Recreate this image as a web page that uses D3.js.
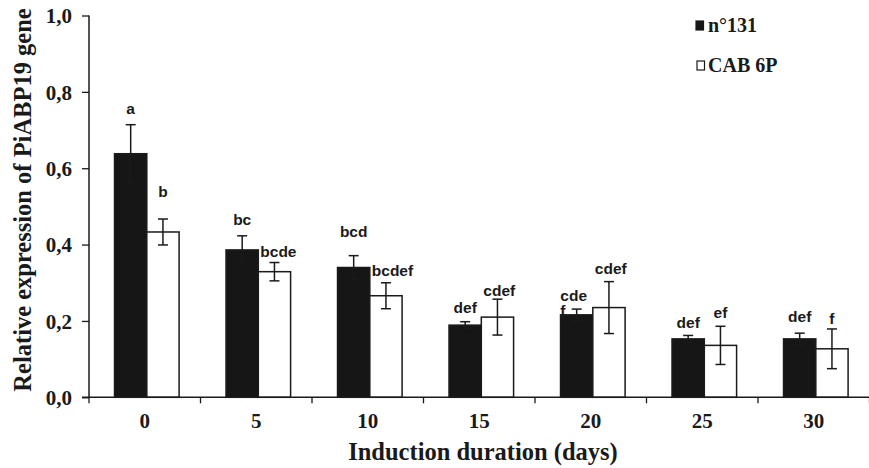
<!DOCTYPE html>
<html>
<head>
<meta charset="utf-8">
<script src="https://cdn.jsdelivr.net/npm/d3@7"></script>
<style>
  html, body { margin: 0; padding: 0; background: #fff; }
  svg { display: block; }
</style>
</head>
<body>
<svg id="chart" width="869" height="468"></svg>
<script>
// ---- data ----
const categories = ["0", "5", "10", "15", "20", "25", "30"];
const seriesNames = ["n°131", "CAB 6P"];
const n131Values = [0.638, 0.386, 0.340, 0.189, 0.216, 0.153, 0.153];
const n131Errors = [0.076, 0.037, 0.031, 0.009, 0.015, 0.009, 0.015];
const cabValues  = [0.433, 0.329, 0.266, 0.210, 0.235, 0.136, 0.127];
const cabErrors  = [0.034, 0.024, 0.034, 0.047, 0.068, 0.050, 0.052];
const n131Letters = ["a", "bc", "bcd", "def", "cde\nf", "def", "def"];
const cabLetters  = ["b", "bcde", "bcdef", "cdef", "cdef", "ef", "f"];
// value at which each letter label's baseline sits
const n131LetterAt = [0.743, 0.450, 0.420, 0.222, 0.253, 0.181, 0.196];
const cabLetterAt  = [0.524, 0.367, 0.319, 0.266, 0.323, 0.207, 0.192];
const yTicks = [0, 0.2, 0.4, 0.6, 0.8, 1.0];
const yTitle = "Relative expression of PiABP19 gene";
const xTitle = "Induction duration (days)";

// ---- layout ----
const svg = d3.select("#chart");
const serif = "'Liberation Serif', 'Times New Roman', serif";
const sans = "'Liberation Sans', Arial, sans-serif";
const plotL = 89, plotR = 869.5, plotT = 15.5, plotB = 397.3;
const barFill = ["#161616", "#ffffff"];

const x = d3.scaleBand().domain(categories).range([plotL, plotR]).padding(0);
const inner = d3.scaleBand().domain(seriesNames)
  .range([x.bandwidth() * 0.229, x.bandwidth() * 0.808]);
const y = d3.scaleLinear().domain([0, 1]).range([plotB, plotT]);

const rows = categories.map((c, i) => ({
  cat: c,
  bars: [
    { s: seriesNames[0], v: n131Values[i], e: n131Errors[i], lab: n131Letters[i], la: n131LetterAt[i] },
    { s: seriesNames[1], v: cabValues[i], e: cabErrors[i], lab: cabLetters[i], la: cabLetterAt[i] }
  ]
}));
const allBars = rows.flatMap(r => r.bars.map(b => ({ ...b, cat: r.cat })));
const bx = b => x(b.cat) + inner(b.s);
const cx = b => bx(b) + inner.bandwidth() / 2;

// ---- letters (drawn under bars) ----
const labG = svg.append("g").attr("font-family", sans).attr("font-weight", "bold")
  .attr("font-size", "15.5px").attr("fill", "#1a1a1a");
allBars.forEach(b => {
  const lines = b.lab.split("\n");
  const t = labG.append("text").attr("y", y(b.la));
  if (lines.length === 1) {
    t.text(b.lab);
    const w = t.node().getComputedTextLength();
    if (w > inner.bandwidth() - 2) {
      t.attr("x", bx(b) + 2).attr("text-anchor", "start");
    } else {
      t.attr("x", cx(b)).attr("text-anchor", "middle");
    }
  } else {
    t.text(lines[0]);
    const w = t.node().getComputedTextLength();
    t.text(null);
    lines.forEach((ln, k) => {
      t.append("tspan").attr("x", cx(b) - 3 - w / 2).attr("dy", k === 0 ? 0 : 15.3).text(ln);
    });
  }
});

// ---- bars ----
svg.append("g").selectAll("rect").data(allBars).join("rect")
  .attr("x", b => bx(b))
  .attr("y", b => y(b.v))
  .attr("width", inner.bandwidth())
  .attr("height", b => y(0) - y(b.v))
  .attr("fill", b => barFill[seriesNames.indexOf(b.s)])
  .attr("stroke", "#1a1a1a").attr("stroke-width", 1.5);

// ---- error bars ----
const eg = svg.append("g").attr("stroke", "#1a1a1a").attr("stroke-width", 1.5);
allBars.forEach(b => {
  const c = cx(b);
  eg.append("line").attr("x1", c).attr("x2", c).attr("y1", y(b.v + b.e)).attr("y2", y(b.v - b.e));
  eg.append("line").attr("x1", c - 5).attr("x2", c + 5).attr("y1", y(b.v + b.e)).attr("y2", y(b.v + b.e));
  eg.append("line").attr("x1", c - 5).attr("x2", c + 5).attr("y1", y(b.v - b.e)).attr("y2", y(b.v - b.e));
});

// ---- y axis ----
const yAxis = d3.axisLeft(y).tickValues(yTicks).tickSize(7).tickPadding(10)
  .tickFormat(d => d3.format(".1f")(d).replace(".", ","));
const yg = svg.append("g").attr("transform", `translate(${plotL},0)`).call(yAxis);
yg.select(".domain").attr("d", `M0,${plotT}V${plotB}`).attr("stroke", "#1a1a1a").attr("stroke-width", 1.5);
yg.selectAll(".tick line").attr("stroke", "#1a1a1a").attr("stroke-width", 1.3);
yg.selectAll(".tick text").attr("font-family", serif).attr("font-weight", "bold")
  .attr("font-size", "21px").attr("fill", "#1a1a1a").attr("dy", "0.35em");

// ---- x axis ----
const xAxis = d3.axisBottom(x).tickSize(0).tickPadding(16);
const xg = svg.append("g").attr("transform", `translate(0,${plotB})`).call(xAxis);
xg.select(".domain").attr("d", `M${plotL - 7},0H${plotR}`).attr("stroke", "#1a1a1a").attr("stroke-width", 1.5);
xg.selectAll(".tick text").attr("font-family", serif).attr("font-weight", "bold")
  .attr("font-size", "21px").attr("fill", "#1a1a1a");
xg.selectAll(".bound").data(categories.map(c => x(c) + x.step()).concat([x(categories[0])]))
  .join("line").attr("class", "bound")
  .attr("x1", d => d).attr("x2", d => d).attr("y1", 0).attr("y2", 6)
  .attr("stroke", "#1a1a1a").attr("stroke-width", 1.3);

// ---- titles ----
svg.append("text").attr("x", 483).attr("y", 460).attr("text-anchor", "middle")
  .attr("font-family", serif).attr("font-weight", "bold").attr("font-size", "24.5px")
  .attr("fill", "#1a1a1a").text(xTitle);
svg.append("text").attr("transform", "translate(31,200) rotate(-90)").attr("text-anchor", "middle")
  .attr("font-family", serif).attr("font-weight", "bold").attr("font-size", "24.5px")
  .attr("fill", "#1a1a1a").text(yTitle);

// ---- legend ----
const lg = svg.append("g").attr("font-family", serif).attr("font-weight", "bold")
  .attr("font-size", "20px").attr("fill", "#1a1a1a");
seriesNames.forEach((s, i) => {
  const yy = 21 + i * 40;
  lg.append("rect").attr("x", 696 + i * 1).attr("y", yy).attr("width", 7.5).attr("height", 9)
    .attr("fill", barFill[i]).attr("stroke", "#1a1a1a").attr("stroke-width", 1.2);
  lg.append("text").attr("x", 708).attr("y", yy + 10.5).text(s);
});
</script>
</body>
</html>
